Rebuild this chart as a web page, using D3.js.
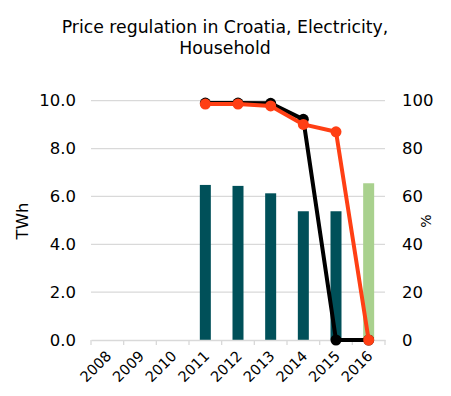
<!DOCTYPE html>
<html>
<head>
<meta charset="utf-8">
<script src="https://cdn.jsdelivr.net/npm/d3@7"></script>
<style>
  body { margin: 0; background: #fff; }
  text { font-family: "DejaVu Sans", Verdana, sans-serif; fill: #000; }
</style>
</head>
<body>
<svg width="451" height="396"></svg>
<script>
// chart data
var years = ["2008", "2009", "2010", "2011", "2012", "2013", "2014", "2015", "2016"];
var volume = [null, null, null, 6.48, 6.44, 6.13, 5.38, 5.38, 6.55];   // TWh, bars
var shareBlack = [null, null, null, 99, 99, 98.9, 92.2, 0, 0];          // %
var shareRed = [null, null, null, 98.6, 98.6, 97.8, 90.1, 87, 0];       // %
var leftTicks = [0, 2, 4, 6, 8, 10];
var rightTicks = [0, 20, 40, 60, 80, 100];
var titleLines = ["Price regulation in Croatia, Electricity,", "Household"];

var svg = d3.select("svg"),
    margin = {left: 91, right: 66, top: 100.7, bottom: 56},
    width = +svg.attr("width") - margin.left - margin.right,
    height = +svg.attr("height") - margin.top - margin.bottom;

var x = d3.scaleBand().domain(years).range([0, width]);
var yL = d3.scaleLinear().domain([0, 10]).range([height, 0]);
var yR = d3.scaleLinear().domain([0, 100]).range([height, 0]);

var g = svg.append("g").attr("transform", "translate(" + margin.left + "," + margin.top + ")");

// title
svg.append("text")
    .attr("x", 225).attr("y", 33)
    .attr("text-anchor", "middle")
    .style("font-size", "17.3px")
  .selectAll("tspan").data(titleLines).enter().append("tspan")
    .attr("x", 225).attr("dy", function(d, i) { return i ? 21 : 0; })
    .text(function(d) { return d; });

// gridlines
g.selectAll("line.grid").data(leftTicks.slice(1)).enter().append("line")
    .attr("x1", 0).attr("x2", width)
    .attr("y1", function(d) { return yL(d); }).attr("y2", function(d) { return yL(d); })
    .attr("stroke", "#d9d9d9").attr("stroke-width", 1.3);

// bars
var barW = 11;
g.selectAll("rect.bar").data(years.map(function(y, i) { return {year: y, v: volume[i], i: i}; })
    .filter(function(d) { return d.v != null; }))
  .enter().append("rect")
    .attr("x", function(d) { return x(d.year) + x.bandwidth() / 2 - barW / 2; })
    .attr("width", barW)
    .attr("y", function(d) { return yL(d.v); })
    .attr("height", function(d) { return height - yL(d.v); })
    .attr("fill", function(d) { return d.year == "2016" ? "#a9d18e" : "#005059"; });

// x axis
var xAxis = g.append("g").attr("transform", "translate(0," + height + ")")
    .call(d3.axisBottom(x).tickSize(0).tickPadding(9));
xAxis.select(".domain").attr("stroke", "#d9d9d9").attr("stroke-width", 1.3);
xAxis.selectAll("text")
    .style("font-size", "14.5px")
    .attr("text-anchor", "end")
    .attr("dy", "0.35em")
    .attr("transform", "translate(-5,7) rotate(-45)");
g.selectAll("line.xtick").data(d3.range(years.length + 1)).enter().append("line")
    .attr("x1", function(i) { return i * x.step(); }).attr("x2", function(i) { return i * x.step(); })
    .attr("y1", height).attr("y2", height + 5)
    .attr("stroke", "#d9d9d9").attr("stroke-width", 1.3);

// left axis
var yAxisL = g.append("g").call(d3.axisLeft(yL).tickValues(leftTicks).tickSize(0).tickPadding(15)
    .tickFormat(d3.format(".1f")));
yAxisL.select(".domain").remove();
yAxisL.selectAll("text").style("font-size", "16.5px");

// right axis
var yAxisR = g.append("g").attr("transform", "translate(" + width + ",0)")
    .call(d3.axisRight(yR).tickValues(rightTicks).tickSize(0).tickPadding(17));
yAxisR.select(".domain").remove();
yAxisR.selectAll("text").style("font-size", "16.5px");

// axis titles
svg.append("text").attr("transform", "translate(28,221) rotate(-90)")
    .attr("text-anchor", "middle").style("font-size", "16.5px").text("TWh");
svg.append("text").attr("transform", "translate(431,221) rotate(-90)")
    .attr("text-anchor", "middle").style("font-size", "14px").text("%");

// lines
var line = d3.line()
    .defined(function(d) { return d.v != null; })
    .x(function(d) { return x(d.year) + x.bandwidth() / 2; })
    .y(function(d) { return yR(d.v); });

function drawSeries(values, color) {
  var pts = years.map(function(y, i) { return {year: y, v: values[i]}; });
  g.append("path").datum(pts)
      .attr("fill", "none").attr("stroke", color).attr("stroke-width", 4)
      .attr("stroke-linejoin", "round")
      .attr("d", line);
  g.selectAll(null).data(pts.filter(function(d) { return d.v != null; })).enter().append("circle")
      .attr("cx", function(d) { return x(d.year) + x.bandwidth() / 2; })
      .attr("cy", function(d) { return yR(d.v); })
      .attr("r", 5.5)
      .attr("fill", color);
}
drawSeries(shareBlack, "#000000");
drawSeries(shareRed, "#ff3f14");
</script>
</body>
</html>
